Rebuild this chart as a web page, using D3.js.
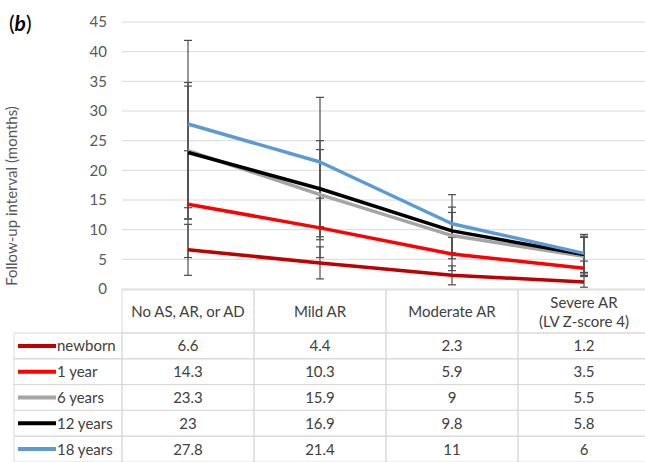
<!DOCTYPE html>
<html>
<head>
<meta charset="utf-8">
<script src="https://cdn.jsdelivr.net/npm/d3@7"></script>
<style>
  body { margin: 0; background: #fff; }
  text { font-family: Lato, "Open Sans", sans-serif; }
</style>
</head>
<body>
<div id="chart"></div>
<script>
// chart values
const categories = ["No AS, AR, or AD", "Mild AR", "Moderate AR", "Severe AR\n(LV Z-score 4)"];
const seriesNames = ["newborn", "1 year", "6 years", "12 years", "18 years"];
const seriesColors = ["#c00000", "#ff0000", "#a5a5a5", "#000000", "#5b9bd5"];
const newborn = [6.6, 4.4, 2.3, 1.2];
const oneYear = [14.3, 10.3, 5.9, 3.5];
const sixYears = [23.3, 15.9, 9, 5.5];
const twelveYears = [23, 16.9, 9.8, 5.8];
const eighteenYears = [27.8, 21.4, 11, 6];
// error bar half-widths
const newbornErr = [4.3, 2.7, 1.6, 0.9];
const oneYearErr = [9.0, 5.0, 2.8, 1.2];
const sixYearsErr = [11.5, 7.6, 3.9, 3.2];
const twelveYearsErr = [11.2, 8.1, 4.0, 3.1];
const eighteenYearsErr = [14.1, 10.9, 4.9, 3.2];
const yTicks = [0, 5, 10, 15, 20, 25, 30, 35, 40, 45];

const seriesValues = [newborn, oneYear, sixYears, twelveYears, eighteenYears];
const seriesErrors = [newbornErr, oneYearErr, sixYearsErr, twelveYearsErr, eighteenYearsErr];
const series = seriesNames.map((name, i) => ({
    name: name,
    color: seriesColors[i],
    values: seriesValues[i].map((v, j) => ({ cat: categories[j], v: v, e: seriesErrors[i][j] }))
}));

const width = 645, height = 462;
const plotLeft = 122, plotRight = 650, plotTop = 22, plotBottom = 289;
const rowH = 25.8, headerBottom = 333, tableLeft = 14;
const txt = "#404040";

const svg = d3.select("#chart").append("svg")
    .attr("width", width)
    .attr("height", height);

const x = d3.scalePoint()
    .domain(categories)
    .range([plotLeft, plotRight])
    .padding(0.5);

const colW = x.step();

const y = d3.scaleLinear()
    .domain([0, 45])
    .range([plotBottom, plotTop]);

// gridlines
svg.append("g")
    .selectAll("line")
    .data(yTicks)
    .enter().append("line")
    .attr("x1", plotLeft)
    .attr("x2", plotRight)
    .attr("y1", d => y(d))
    .attr("y2", d => y(d))
    .attr("stroke", "#d9d9d9")
    .attr("stroke-width", 1);

// y axis labels
const yAxis = d3.axisLeft(y).tickValues(yTicks).tickSize(0).tickPadding(0);
const yg = svg.append("g")
    .attr("transform", `translate(107,0)`)
    .call(yAxis);
yg.select(".domain").remove();
yg.selectAll("text")
    .attr("fill", "#595959")
    .style("font-family", "Lato, sans-serif")
    .style("font-size", "15px");

// y axis title
svg.append("text")
    .attr("transform", "translate(17,196) rotate(-90)")
    .attr("text-anchor", "middle")
    .attr("fill", "#595959")
    .style("font-size", "15px")
    .text("Follow-up interval (months)");

// panel label
const lab = svg.append("text")
    .attr("x", 9)
    .attr("y", 31)
    .attr("fill", "#000")
    .style("font-size", "21px");
lab.append("tspan").text("(");
lab.append("tspan").style("font-weight", "bold").style("font-style", "italic").text("b");
lab.append("tspan").text(")");

// error bars
const errG = svg.append("g");
series.forEach(s => {
    const g = errG.append("g");
    g.selectAll("line.bar")
        .data(s.values)
        .enter().append("line")
        .attr("class", "bar")
        .attr("x1", d => x(d.cat))
        .attr("x2", d => x(d.cat))
        .attr("y1", d => y(d.v + d.e))
        .attr("y2", d => y(Math.max(0, d.v - d.e)))
        .attr("stroke", "#4d4d4d")
        .attr("stroke-width", 1.2);
    [1, -1].forEach(sign => {
        g.selectAll("line.cap" + sign)
            .data(s.values)
            .enter().append("line")
            .attr("x1", d => x(d.cat) - 4)
            .attr("x2", d => x(d.cat) + 4)
            .attr("y1", d => y(Math.max(0, d.v + sign * d.e)))
            .attr("y2", d => y(Math.max(0, d.v + sign * d.e)))
            .attr("stroke", "#4d4d4d")
            .attr("stroke-width", 1.2);
    });
});

// lines
const line = d3.line()
    .x(d => x(d.cat))
    .y(d => y(d.v));

svg.append("g")
    .selectAll("path")
    .data(series)
    .enter().append("path")
    .attr("d", d => line(d.values))
    .attr("fill", "none")
    .attr("stroke", d => d.color)
    .attr("stroke-width", 3.5)
    .attr("stroke-linejoin", "round");

// data table
const table = svg.append("g");
const gridColor = "#d9d9d9";

// header cells
categories.forEach(c => {
    table.append("rect")
        .attr("x", x(c) - colW / 2)
        .attr("y", plotBottom + 1)
        .attr("width", colW)
        .attr("height", headerBottom - plotBottom - 1)
        .attr("fill", "none")
        .attr("stroke", gridColor);
    const lines = c.split("\n");
    const t = table.append("text")
        .attr("x", x(c))
        .attr("text-anchor", "middle")
        .attr("fill", txt)
        .style("font-size", "15px");
    lines.forEach((l, i) => {
        t.append("tspan")
            .attr("x", x(c))
            .attr("y", (plotBottom + headerBottom) / 2 + 6 + (i - (lines.length - 1) / 2) * 19)
            .text(l);
    });
});

// body rows
series.forEach((s, i) => {
    const top = headerBottom + i * rowH;
    table.append("rect")
        .attr("x", tableLeft)
        .attr("y", top)
        .attr("width", plotLeft - tableLeft)
        .attr("height", rowH)
        .attr("fill", "none")
        .attr("stroke", gridColor);
    table.append("line")
        .attr("x1", 18)
        .attr("x2", 56)
        .attr("y1", top + rowH / 2)
        .attr("y2", top + rowH / 2)
        .attr("stroke", s.color)
        .attr("stroke-width", 4);
    table.append("text")
        .attr("x", 57)
        .attr("y", top + rowH / 2 + 5.5)
        .attr("fill", txt)
        .style("font-size", "15px")
        .text(s.name);
    s.values.forEach(d => {
        table.append("rect")
            .attr("x", x(d.cat) - colW / 2)
            .attr("y", top)
            .attr("width", colW)
            .attr("height", rowH)
            .attr("fill", "none")
            .attr("stroke", gridColor);
        table.append("text")
            .attr("x", x(d.cat))
            .attr("y", top + rowH / 2 + 5.5)
            .attr("text-anchor", "middle")
            .attr("fill", txt)
            .style("font-size", "15px")
            .text(d.v);
    });
});
</script>
</body>
</html>
